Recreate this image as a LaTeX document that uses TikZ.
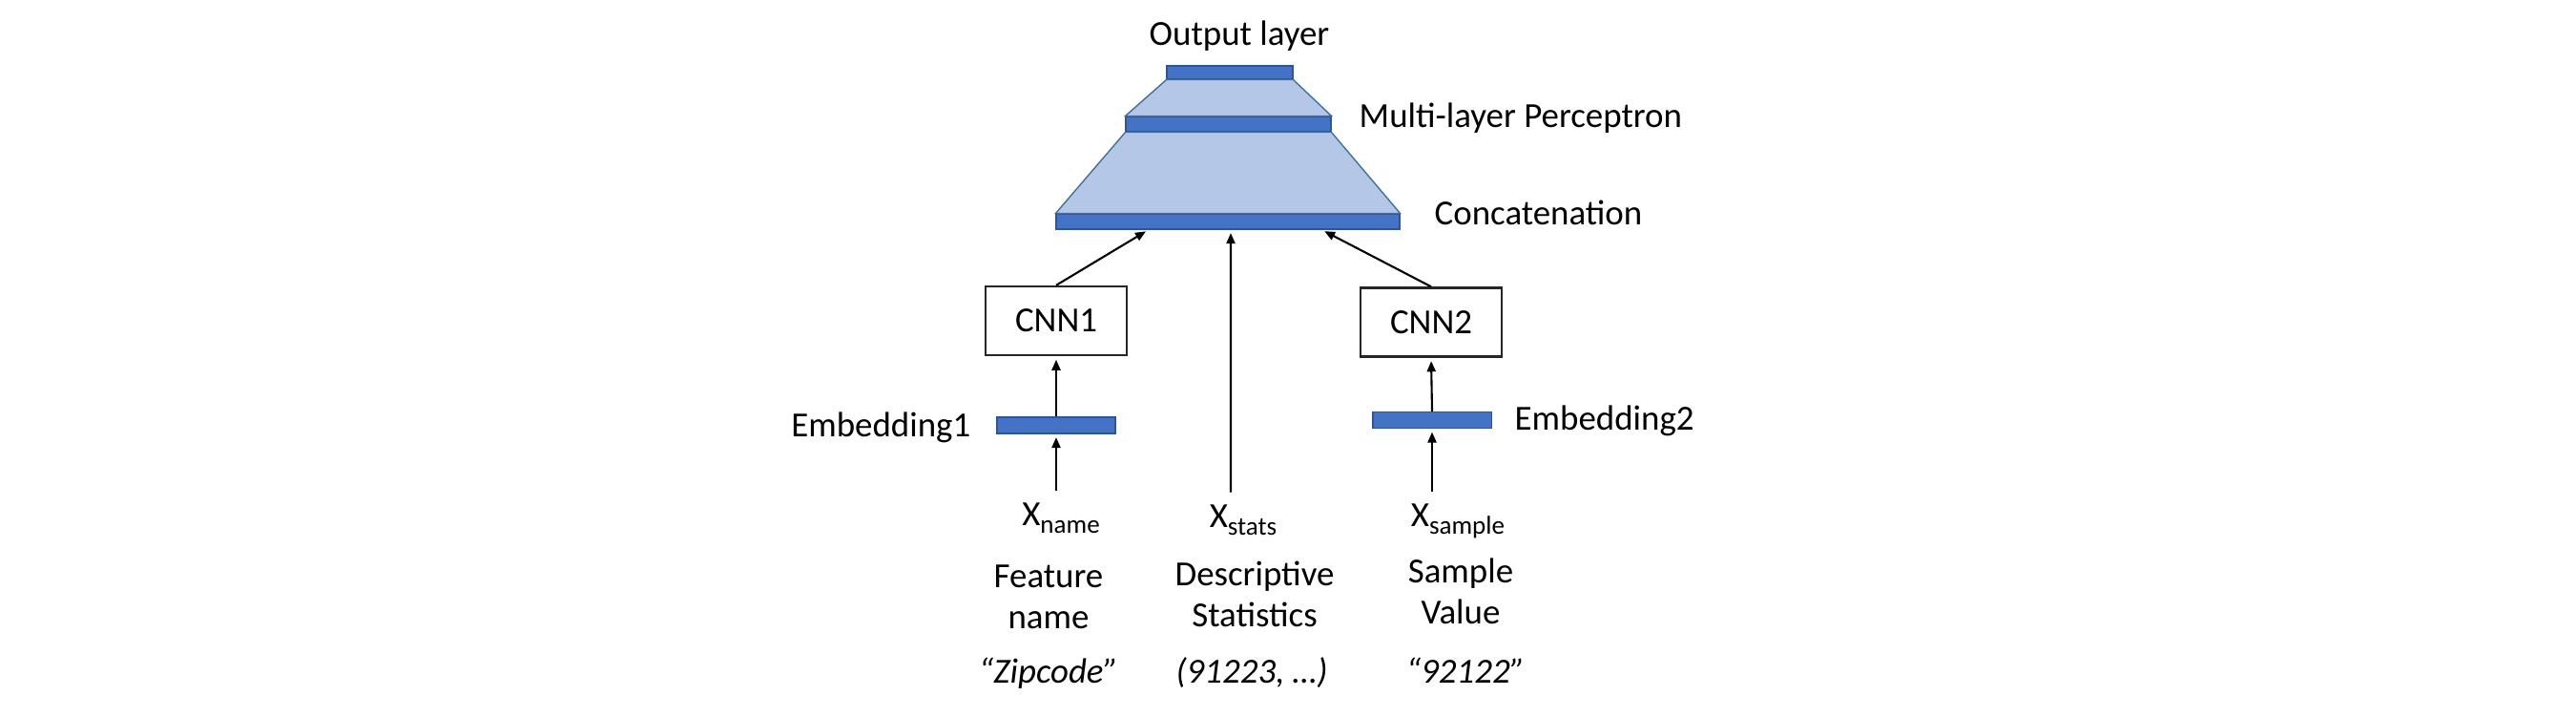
\documentclass[tikz,border=0pt]{standalone}
\usepackage{fontspec}
\setmainfont{Carlito}
\usepackage{tikz}
\usetikzlibrary{arrows.meta}

\definecolor{barblue}{HTML}{4472C4}
\definecolor{baredge}{HTML}{2F5597}
\definecolor{conefill}{HTML}{B4C7E7}
\definecolor{coneedge}{HTML}{41719C}

\newcommand{\xsub}[1]{X\raisebox{-0.8mm}{\fontsize{7.7}{8}\selectfont #1}}

\begin{document}
\begin{tikzpicture}[
    font=\fontsize{10.5}{12.2}\selectfont,
    layer/.style={draw=baredge, line width=0.3pt, fill=barblue, inner sep=0pt},
    cone/.style={draw=coneedge, line width=0.4pt, fill=conefill},
    cnn/.style={draw=black!85, line width=0.7pt, minimum width=1.48cm, minimum height=0.72cm, inner sep=0pt},
    arrow/.style={-{Triangle[length=1.1mm, width=0.9mm]}, line width=0.6pt, shorten >=1pt},
    side/.style={inner sep=0pt},
    input/.style={inner sep=1.2mm, anchor=base},
    descr/.style={inner sep=0pt, anchor=base, align=center}
]
\useasboundingbox (0,0) rectangle (27,-7.5);

% MLP layers
\node[layer, minimum width=1.32cm, minimum height=0.14cm] (outbar) at (12.89, -0.76) {};
\node[layer, minimum width=2.15cm, minimum height=0.16cm] (mlpbar) at (12.875, -1.30) {};
\node[layer, minimum width=3.60cm, minimum height=0.16cm] (catbar) at (12.87, -2.32) {};
\draw[cone] (outbar.south west) -- (outbar.south east) -- (mlpbar.north east) -- (mlpbar.north west) -- cycle;
\draw[cone] (mlpbar.south west) -- (mlpbar.south east) -- (catbar.north east) -- (catbar.north west) -- cycle;

\node[side, anchor=base] at (12.99, -0.47) {Output layer};
\node[side, anchor=base west] at (14.24, -1.33) {Multi-layer Perceptron};
\node[side, anchor=base west] at (15.03, -2.35) {Concatenation};

% CNN branches
\node[cnn] (cnn1) at (11.07, -3.36) {CNN1};
\node[cnn] (cnn2) at (15.00, -3.375) {CNN2};

\node[layer, minimum width=1.24cm, minimum height=0.17cm] (emb1) at (11.07, -4.455) {};
\node[layer, minimum width=1.24cm, minimum height=0.17cm] (emb2) at (15.01, -4.40) {};
\node[side, anchor=base east] at (10.18, -4.57) {Embedding1};
\node[side, anchor=base west] at (15.87, -4.50) {Embedding2};

% Inputs
\node[input] (xname) at (11.12, -5.50) {\xsub{name}};
\node[input] (xstats) at (13.03, -5.52) {\xsub{stats}};
\node[input] (xsample) at (15.28, -5.51) {\xsub{sample}};

% base of a two-line node sits on its last line
\node[descr] (feat) at (10.99, -6.58) {Feature\\name};
\node[descr] (desc) at (13.15, -6.56) {Descriptive\\Statistics};
\node[descr] (samp) at (15.31, -6.53) {Sample\\Value};

\node[descr] (ex1) at (10.99, -7.15) {\itshape “Zipcode”};
\node[descr] (ex2) at (13.12, -7.15) {\itshape (91223, …)};
\node[descr] (ex3) at (15.36, -7.15) {\itshape “92122”};

% Arrows
\draw[arrow] (xname.north -| emb1.south) -- (emb1.south);
\draw[arrow] (xsample.north -| emb2.south) -- (emb2.south);
\draw[arrow] (emb1.north) -- (cnn1.south);
\draw[arrow] (emb2.north) -- (cnn2.south);
\draw[arrow] (cnn1.north) -- ([xshift=-8.3mm]catbar.south);
\draw[arrow] (cnn2.north) -- ([xshift=9.8mm]catbar.south);
\draw[arrow] ([xshift=-1.3mm]xstats.north) -- ([xshift=0.3mm]catbar.south);

\end{tikzpicture}
\end{document}
